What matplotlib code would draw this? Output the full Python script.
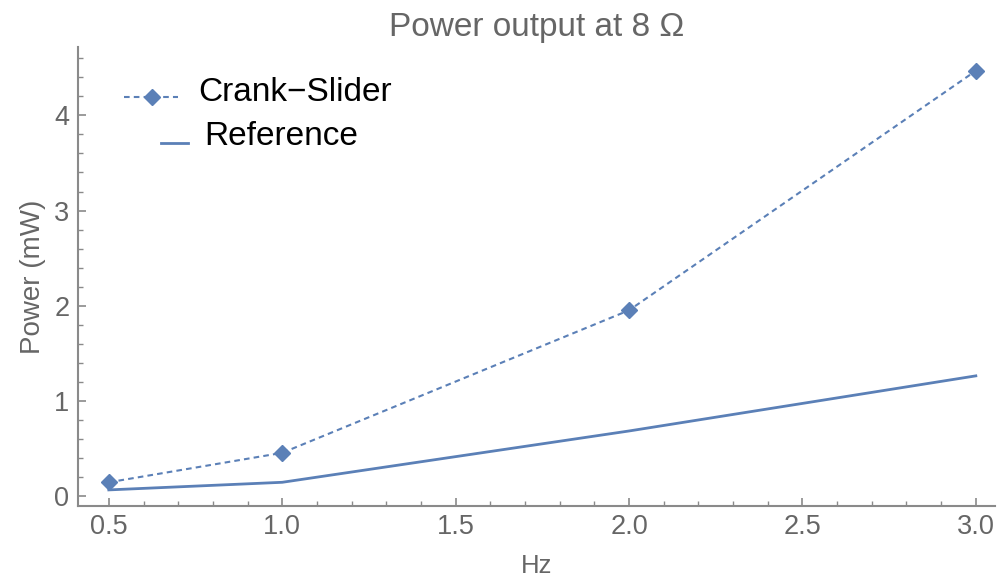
"""Power output of the crank-slider harvester against drive frequency"""

import matplotlib.pyplot as plt
from matplotlib.ticker import MultipleLocator

# Drive frequency (Hz)
freq = [0.5, 1.0, 2.0, 3.0]

# Measured power (mW)
crank_slider = [0.14, 0.45, 1.95, 4.47]
reference = [0.06, 0.14, 0.68, 1.26]

x_ticks = [0.5, 1.0, 1.5, 2.0, 2.5, 3.0]
y_ticks = [0, 1, 2, 3, 4]

LINE_COLOR = "#5b80b7"
AXIS_COLOR = "#8a8a8a"
TEXT_COLOR = "#666666"

CRANK_STYLE = dict(linestyle=(0, (2.7, 2)), linewidth=1.5, color=LINE_COLOR)
REF_STYLE = dict(linewidth=2, color=LINE_COLOR)

plt.rcParams['font.family'] = ['Liberation Sans', 'DejaVu Sans']


def main():
    fig = plt.figure(figsize=(10.08, 5.81), dpi=100)
    ax = fig.add_axes([0.077, 0.129, 0.91, 0.79])

    ax.plot(freq, crank_slider, marker="D", markersize=8, **CRANK_STYLE)
    ax.plot(freq, reference, **REF_STYLE)

    ax.set_xlim(0.41, 3.055)
    ax.set_ylim(-0.11, 4.72)

    # Only left and bottom axes, ticks pointing inward
    for side in ("top", "right"):
        ax.spines[side].set_visible(False)
    for side in ("left", "bottom"):
        ax.spines[side].set_color(AXIS_COLOR)
        ax.spines[side].set_linewidth(1.5)

    ax.set_xticks(x_ticks)
    ax.set_xticklabels([f"{t:.1f}" for t in x_ticks])
    ax.set_yticks(y_ticks)
    ax.xaxis.set_minor_locator(MultipleLocator(0.1))
    ax.yaxis.set_minor_locator(MultipleLocator(0.2))
    ax.tick_params(which="both", direction="in", color=AXIS_COLOR,
                   labelcolor=TEXT_COLOR, labelsize=19.5)
    ax.tick_params(which="major", length=6, width=1.2, pad=6)
    ax.tick_params(which="minor", length=3.5, width=1)

    ax.set_xlabel("Hz", fontsize=18.5, color=TEXT_COLOR, labelpad=10)
    ax.set_ylabel("Power (mW)", fontsize=20, color=TEXT_COLOR, labelpad=6)
    ax.set_title("Power output at 8 \u03a9", fontsize=24, color=TEXT_COLOR, pad=8)

    # Hand-placed legend (the two samples have different lengths)
    tr = ax.transAxes
    ax.plot([0.051, 0.109], [0.891, 0.891], transform=tr, **CRANK_STYLE)
    ax.plot([0.081], [0.891], transform=tr, marker="D", markersize=8,
            color=LINE_COLOR, linestyle="none")
    ax.text(0.131, 0.902, "Crank\u2212Slider", transform=tr, fontsize=24,
            va="center", ha="left", color="black")
    ax.plot([0.0905, 0.12], [0.791, 0.791], transform=tr, **REF_STYLE)
    ax.text(0.1385, 0.806, "Reference", transform=tr, fontsize=24,
            va="center", ha="left", color="black")

    fig.savefig("out.png", dpi=100)


if __name__ == "__main__":
    main()
